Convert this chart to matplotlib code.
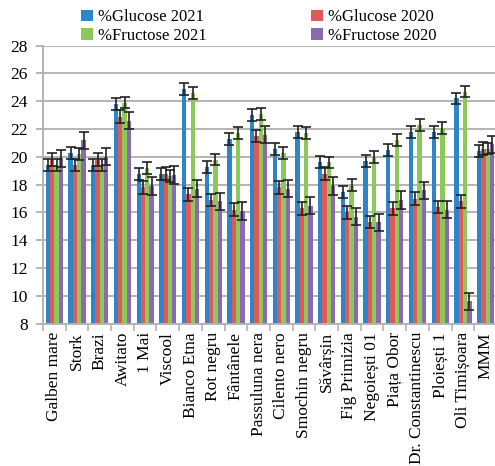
import numpy as np
import matplotlib
matplotlib.use("Agg")
import matplotlib.pyplot as plt

plt.rcParams['font.family'] = ['Liberation Serif', 'DejaVu Serif']

categories = ["Galben mare", "Stork", "Brazi", "Awitato", "1 Mai", "Viscool",
              "Bianco Etna", "Rot negru", "Fântânele", "Passuluna nera",
              "Cilento nero", "Smochin negru", "Săvârșin", "Fig Primizia",
              "Negoiești 01", "Piața Obor", "Dr. Constantinescu", "Ploiești 1",
              "Oli Timișoara", "MMM"]

glucose_2021 = [19.4, 20.3, 19.4, 23.8, 18.8, 18.8, 24.9, 19.3, 21.3, 23.0,
                20.6, 21.8, 19.6, 17.5, 19.7, 20.5, 21.8, 21.8, 24.2, 20.4]
glucose_2020 = [19.8, 19.4, 19.8, 22.9, 17.8, 18.8, 17.3, 16.9, 16.2, 21.5,
                17.8, 16.3, 18.8, 16.0, 15.3, 16.3, 17.0, 16.4, 16.8, 20.6]
fructose_2021 = [19.4, 20.2, 19.4, 23.9, 19.2, 18.6, 24.6, 19.8, 21.7, 23.1,
                 20.3, 21.7, 19.6, 18.0, 20.0, 21.2, 22.3, 22.1, 24.7, 20.6]
fructose_2020 = [19.9, 21.2, 20.0, 22.6, 17.9, 18.7, 17.7, 16.8, 16.1, 21.6,
                 17.7, 16.5, 17.9, 15.7, 15.3, 16.9, 17.6, 16.2, 9.6, 20.9]

err_glucose_2021 = 0.43
err_glucose_2020 = 0.45
err_fructose_2021 = 0.42
err_fructose_2020 = 0.62

y_ticks = [8, 10, 12, 14, 16, 18, 20, 22, 24, 26, 28]

series = [
    ("%Glucose 2021", glucose_2021, err_glucose_2021, "#2e86c8"),
    ("%Glucose 2020", glucose_2020, err_glucose_2020, "#e05a5a"),
    ("%Fructose 2021", fructose_2021, err_fructose_2021, "#8cc85a"),
    ("%Fructose 2020", fructose_2020, err_fructose_2020, "#8a6bb0"),
]

fig = plt.figure(figsize=(4.95, 4.66), dpi=100)
ax = fig.add_axes([0.0869, 0.3054, 0.917, 0.5966])

n = len(categories)
x = np.arange(n)
bw = 0.19
handles = {}
for i, (name, vals, err, col) in enumerate(series):
    pos = x + (i - 1.5) * bw
    b = ax.bar(pos, vals, width=bw, color=col, label=name, zorder=2, bottom=0)
    ax.errorbar(pos, vals, yerr=err, fmt='none', ecolor='#222222',
                elinewidth=1.2, capsize=3.5, capthick=1.2, zorder=3)
    handles[name] = b

ax.set_ylim(8, 28)
ax.set_xlim(-0.5, n - 0.5)
ax.set_yticks(y_ticks)
ax.set_yticklabels([str(t) for t in y_ticks], fontsize=12.5)
ax.yaxis.grid(True, color='#b4b4b4', linewidth=1.4, zorder=0)
ax.set_axisbelow(True)
ax.tick_params(axis='y', length=5, color='#b4b4b4', width=1.4, pad=6)

ax.set_xticks(x)
ax.set_xticklabels(categories, rotation=90, fontsize=12.5)
ax.tick_params(axis='x', which='major', length=0, pad=6)
ax.set_xticks(np.arange(n + 1) - 0.5, minor=True)
ax.tick_params(axis='x', which='minor', length=5, color='#b4b4b4', width=1.2)

for s in ['top', 'right']:
    ax.spines[s].set_visible(False)
for s in ['left', 'bottom']:
    ax.spines[s].set_color('#b4b4b4')
    ax.spines[s].set_linewidth(1.4)

order = ["%Glucose 2021", "%Fructose 2021", "%Glucose 2020", "%Fructose 2020"]
fig.legend([handles[k] for k in order], order, ncol=2, loc='upper left',
           bbox_to_anchor=(0.14, 1.005), frameon=False, fontsize=12,
           handlelength=0.7, handleheight=0.7, handletextpad=0.3,
           columnspacing=6.3, labelspacing=0.15, borderpad=0.2)

fig.savefig("out.png", dpi=100)
